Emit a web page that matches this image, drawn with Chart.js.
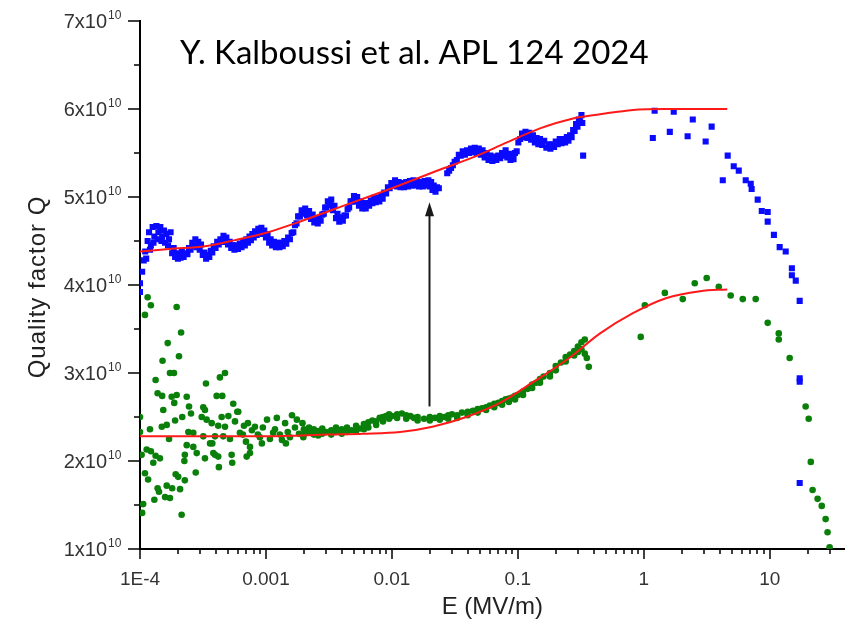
<!DOCTYPE html>
<html><head><meta charset="utf-8">
<script src="https://cdn.jsdelivr.net/npm/chart.js@4.4.1/dist/chart.umd.min.js"></script>
<style>html,body{margin:0;padding:0;background:#fff;}canvas{display:block;}</style>
</head><body>
<canvas id="c" width="849" height="630" style="width:849px;height:630px"></canvas>
<script>
// ---------- axis ----------
const X_MIN = 1e-4, X_MAX = 39.4;
const Y_MIN = 1, Y_MAX = 7;                 // Q in units of 1e10
const xTickVals = [1e-4, 1e-3, 0.01, 0.1, 1, 10];
const xTickLabels = ['1E-4', '0.001', '0.01', '0.1', '1', '10'];
const yTickVals = [1, 2, 3, 4, 5, 6, 7];
const yTickMant = ['1x10','2x10','3x10','4x10','5x10','6x10','7x10'];
const yTickExp = '10';
const titleText = 'Y. Kalboussi et al. APL 124 2024';
const xTitle = 'E (MV/m)';
const yTitle = 'Quality factor Q';

// ---------- blue (after treatment) ----------
const blueBandE = [1.00e-4,1.00e-4,1.04e-4,1.07e-4,1.10e-4,1.15e-4,1.18e-4,1.22e-4,1.26e-4,1.30e-4,
  1.35e-4,1.40e-4,1.45e-4,1.50e-4,1.55e-4,1.62e-4,1.70e-4,1.75e-4,1.85e-4,1.95e-4,
  2.05e-4,2.15e-4,2.30e-4,2.45e-4,2.60e-4,2.75e-4,2.90e-4,3.05e-4,3.25e-4,3.45e-4,
  3.65e-4,3.85e-4,4.10e-4,4.35e-4,4.60e-4,4.85e-4,5.15e-4,5.45e-4,5.80e-4,6.20e-4,
  6.60e-4,7.00e-4,7.40e-4,7.80e-4,8.20e-4,8.70e-4,9.20e-4,9.70e-4,1.03e-3,1.09e-3,
  1.16e-3,1.24e-3,1.32e-3,1.40e-3,1.50e-3,1.60e-3,1.70e-3,1.80e-3,1.92e-3,2.05e-3,
  2.20e-3,2.35e-3,2.50e-3,2.65e-3,2.80e-3,2.95e-3,3.10e-3,3.30e-3,3.50e-3,3.70e-3,
  3.95e-3,4.20e-3,4.45e-3,4.70e-3,5.00e-3,5.30e-3,5.65e-3,6.00e-3,6.40e-3,6.80e-3,
  7.20e-3,7.70e-3,8.20e-3,8.70e-3,9.30e-3,0.0099,0.0106,0.0113,0.0121,0.0130,
  0.0139,0.0148,0.0158,0.0170,0.0182,0.0195,0.0205,0.0215,0.0228,0.0236,
  0.0275,0.0295,0.0315,0.0340,0.0365,0.0395,0.0425,0.0455,0.0490,0.0525,
  0.0565,0.0605,0.0650,0.0700,0.0750,0.0800,0.0850,0.0900,0.0950,0.1010,
  0.1080,0.1150,0.1230,0.1320,0.1410,0.1500,0.1620,0.1750,0.1880,0.2000,
  0.2150,0.2300,0.2450,0.2600,0.2750,0.2900,0.3050,0.3200,0.3250,0.3300];
const blueBandQ = [3.92,4.02,4.15,4.28,4.38,4.50,4.60,4.45,4.66,4.55,
  4.67,4.60,4.66,4.55,4.62,4.58,4.52,4.60,4.42,4.36,
  4.34,4.38,4.36,4.42,4.48,4.52,4.49,4.46,4.37,4.34,
  4.39,4.44,4.49,4.52,4.56,4.54,4.49,4.45,4.45,4.47,
  4.49,4.52,4.55,4.58,4.61,4.64,4.65,4.62,4.58,4.52,
  4.49,4.48,4.48,4.50,4.54,4.59,4.68,4.78,4.85,4.87,
  4.84,4.80,4.76,4.75,4.80,4.88,4.95,4.97,4.90,4.81,
  4.77,4.79,4.86,4.95,5.01,5.00,4.95,4.93,4.93,4.96,
  4.99,4.99,5.01,5.05,5.11,5.16,5.19,5.17,5.16,5.17,
  5.18,5.19,5.18,5.17,5.18,5.19,5.17,5.13,5.11,5.10,
  5.27,5.33,5.40,5.48,5.52,5.53,5.55,5.56,5.55,5.53,
  5.50,5.47,5.46,5.47,5.50,5.53,5.49,5.46,5.50,5.62,
  5.72,5.74,5.73,5.70,5.67,5.66,5.64,5.60,5.60,5.63,
  5.66,5.66,5.68,5.70,5.76,5.83,5.88,5.93,5.84,5.47];
// lower edge of the dense blue band
const blueEdgeE = [1.12e-4,1.20e-4,1.28e-4,1.38e-4,1.48e-4,1.58e-4,1.67e-4,1.80e-4,1.90e-4,2.00e-4,
  2.10e-4,2.22e-4,2.38e-4,2.52e-4,2.68e-4,2.82e-4,2.98e-4,3.15e-4,3.35e-4,3.55e-4,
  3.75e-4,3.98e-4,4.22e-4,4.48e-4,4.72e-4,5.00e-4,5.30e-4,5.62e-4,6.00e-4,6.40e-4,
  6.80e-4,7.20e-4,7.60e-4,8.00e-4,8.45e-4,8.95e-4,9.45e-4,1.00e-3,1.06e-3,1.12e-3,
  1.20e-3,1.28e-3,1.36e-3,1.45e-3,1.55e-3,1.65e-3,1.75e-3,1.86e-3,1.98e-3,2.12e-3,
  2.28e-3,2.42e-3,2.58e-3,2.72e-3,2.88e-3,3.02e-3,3.20e-3,3.40e-3,3.60e-3,3.82e-3,
  4.08e-3,4.32e-3,4.58e-3,4.85e-3,5.15e-3,5.48e-3,5.82e-3,6.20e-3,6.60e-3,7.00e-3,
  7.45e-3,7.95e-3,8.45e-3,9.00e-3,9.60e-3,0.0102,0.0110,0.0117,0.0125,0.0135,
  0.0144,0.0153,0.0164,0.0176,0.0188,0.0200,0.0210,0.0222,0.0285,0.0305,
  0.0328,0.0352,0.0380,0.0410,0.0440,0.0472,0.0508,0.0545,0.0585,0.0628,
  0.0675,0.0725,0.0775,0.0825,0.0875,0.0925,0.0980,0.1045,0.1115,0.1190,
  0.1275,0.1365,0.1455,0.1560,0.1685,0.1815,0.1940,0.2075,0.2225,0.2375,
  0.2525,0.2675,0.2825,0.2975,0.3120];
const blueEdgeQ = [4.30,4.40,4.48,4.52,4.50,4.48,4.45,4.36,4.32,4.30,
  4.31,4.32,4.35,4.40,4.44,4.43,4.40,4.34,4.30,4.32,
  4.37,4.42,4.46,4.49,4.50,4.46,4.42,4.40,4.41,4.43,
  4.45,4.48,4.51,4.54,4.57,4.59,4.58,4.54,4.48,4.45,
  4.43,4.43,4.44,4.47,4.52,4.60,4.70,4.78,4.81,4.79,
  4.75,4.71,4.70,4.73,4.81,4.88,4.91,4.85,4.76,4.72,
  4.73,4.79,4.88,4.95,4.95,4.90,4.87,4.87,4.90,4.93,
  4.94,4.95,4.98,5.04,5.10,5.13,5.12,5.11,5.11,5.12,
  5.13,5.13,5.12,5.12,5.13,5.12,5.08,5.06,5.30,5.36,
  5.42,5.47,5.48,5.50,5.51,5.50,5.48,5.45,5.42,5.41,
  5.42,5.44,5.47,5.45,5.42,5.43,5.52,5.66,5.68,5.67,
  5.65,5.62,5.60,5.59,5.56,5.55,5.57,5.60,5.61,5.62,
  5.64,5.68,5.75,5.80,5.86];
const blueTailE = [1.18,1.22,1.61,1.73,2.23,2.45,3.10,3.46,4.24,4.64,
  5.18,5.68,6.45,7.07,7.19,8.03,8.65,9.64,9.64,10.8,
  12.0,13.4,15.0,15.0,16.1,17.3,17.3,17.3,17.3];
const blueTailQ = [5.67,5.98,5.74,5.97,5.69,5.88,5.63,5.80,5.19,5.47,
  5.35,5.30,5.19,5.15,5.09,4.97,4.84,4.83,4.72,4.57,
  4.43,4.38,4.19,4.11,4.05,3.82,2.94,2.90,1.75];

// ---------- green (before treatment) ----------
const greenScatterE = [1.15e-4,1.22e-4,1.095e-4,1.955e-4,2.12e-4,1.66e-4,2.04e-4,1.51e-4,1.73e-4,1.86e-4,
  4.73e-4,4.31e-4,1.33e-4,3.34e-4,1.38e-4,1.50e-4,1.955e-4,1.785e-4,2.35e-4,4.06e-4,
  4.50e-4,1.87e-4,2.45e-4,1.53e-4,3.18e-4,3.28e-4,5.50e-4,6.03e-4,2.54e-4,1.00e-4,
  3.09e-4,2.165e-4,1.90e-4,5.03e-4,4.45e-4,3.38e-4,3.71e-4,1.49e-4,1.63e-4,1.20e-4,
  2.42e-4,2.65e-4,1.00e-4,4.18e-4,4.73e-4,5.68e-4,3.18e-4,3.94e-4,4.58e-4,5.18e-4,
  1.70e-4,2.35e-4,3.60e-4,3.75e-4,2.65e-4,2.82e-4,1.13e-4,1.22e-4,1.03e-4,1.33e-4,
  1.44e-4,2.27e-4,2.25e-4,3.28e-4,3.82e-4,3.94e-4,4.18e-4,5.34e-4,5.40e-4,7.47e-4,
  7.03e-4,1.275e-4,4.23e-4,2.77e-4,1.095e-4,1.16e-4,1.92e-4,2.01e-4,2.27e-4,1.63e-4,
  1.38e-4,1.80e-4,2.08e-4,1.415e-4,1.58e-4,1.73e-4,1.30e-4,1.06e-4,1.04e-4,2.14e-4,
  5.92e-4,6.21e-4,7.19e-4,7.47e-4,8.18e-4,8.95e-4,1.02e-3,1.14e-3,1.22e-3,1.34e-3,
  1.42e-3,1.61e-3,1.76e-3,1.95e-3,1.98e-3,6.56e-4,6.94e-4,7.74e-4,8.63e-4,9.45e-4,
  1.075e-3,1.18e-3,1.29e-3,1.49e-3,1.55e-3,1.70e-3,1.83e-3,6.69e-4,9.28e-4,1.44e-3];
const greenScatterQ = [3.86,3.77,3.66,3.75,3.46,3.34,3.19,3.14,3.00,3.00,
  3.00,2.95,2.92,2.88,2.77,2.74,2.75,2.73,2.73,2.74,
  2.74,2.66,2.62,2.58,2.61,2.58,2.65,2.56,2.54,2.50,
  2.50,2.50,2.46,2.51,2.50,2.47,2.43,2.39,2.41,2.36,
  2.33,2.32,2.33,2.40,2.39,2.45,2.28,2.28,2.28,2.25,
  2.25,2.18,2.20,2.20,2.16,2.09,2.13,2.11,2.07,2.06,
  2.03,2.07,2.00,2.03,2.09,2.07,2.05,2.07,1.98,2.09,
  2.05,1.98,1.93,1.87,1.86,1.79,1.85,1.82,1.78,1.72,
  1.69,1.69,1.68,1.65,1.59,1.58,1.56,1.51,1.41,1.39,
  2.56,2.32,2.43,2.16,2.39,2.27,2.47,2.32,2.49,2.24,
  2.43,2.52,2.47,2.43,2.27,2.30,2.22,2.35,2.30,2.38,
  2.25,2.36,2.30,2.33,2.27,2.38,2.31,2.40,2.20,2.20];
const greenBandE = [2.0e-3,2.0e-3,2.2e-3,2.2e-3,2.4e-3,2.4e-3,2.6e-3,2.6e-3,2.8e-3,2.8e-3,
  3.0e-3,3.3e-3,3.3e-3,3.6e-3,3.6e-3,4.0e-3,4.0e-3,4.4e-3,4.4e-3,4.8e-3,
  5.2e-3,5.2e-3,5.6e-3,6.0e-3,6.0e-3,6.5e-3,6.5e-3,7.0e-3,7.5e-3,7.5e-3,
  8.0e-3,8.5e-3,8.5e-3,9.0e-3,9.5e-3,9.5e-3,0.010,0.011,0.011,0.012,
  0.013,0.013,0.014,0.015,0.016,0.016,0.018,0.020,0.020,0.022,
  0.024,0.024,0.026,0.028,0.028,0.030,0.033,0.033,0.036,0.040,
  0.040,0.044,0.048,0.048,0.052,0.056,0.056,0.060,0.065,0.065,
  0.070,0.075,0.075,0.080,0.085,0.085,0.090,0.095,0.095,0.100,
  0.110,0.110,0.120,0.130,0.130,0.140,0.150,0.150,0.160,0.180,
  0.180,0.200,0.200,0.220,0.240,0.240,0.260,0.280,0.280,0.300,
  0.300,0.320,0.320,0.340,0.340,0.353,0.366];
const greenBandQ = [2.36,2.30,2.33,2.38,2.30,2.36,2.34,2.29,2.37,2.31,
  2.33,2.35,2.30,2.33,2.38,2.36,2.31,2.38,2.33,2.35,
  2.40,2.34,2.37,2.42,2.36,2.44,2.38,2.46,2.45,2.41,
  2.49,2.50,2.45,2.51,2.53,2.48,2.51,2.53,2.49,2.54,
  2.52,2.48,2.51,2.49,2.50,2.46,2.48,2.50,2.46,2.49,
  2.51,2.47,2.50,2.52,2.48,2.53,2.52,2.49,2.55,2.56,
  2.52,2.57,2.59,2.55,2.60,2.61,2.58,2.63,2.65,2.61,
  2.66,2.68,2.64,2.70,2.71,2.67,2.72,2.74,2.70,2.75,
  2.79,2.75,2.82,2.87,2.83,2.89,2.93,2.89,2.96,3.00,
  2.96,3.08,3.03,3.12,3.18,3.13,3.21,3.25,3.20,3.30,
  3.24,3.35,3.27,3.38,3.22,3.17,3.07];
const greenTailE = [0.946,1.02,1.47,2.04,2.54,3.16,3.94,4.90,6.11,7.74,
  9.64,11.8,11.8,14.4,19.3,20.4,21.2,21.9,24.0,25.9,27.8,28.8,29.9];
const greenTailQ = [3.41,3.77,3.91,3.84,4.02,4.08,3.98,3.88,3.84,3.84,
  3.57,3.45,3.38,3.17,2.62,2.48,1.99,1.67,1.57,1.49,1.34,1.19,1.02];

// ---------- red fit curves ----------
const blueFitE = [1e-4,1.7e-4,3.3e-4,5.7e-4,1.04e-3,1.7e-3,3.6e-3,0.01,0.024,0.044,0.082,0.15,0.27,0.45,0.82,1.5,4.6];
const blueFitQ = [4.38,4.41,4.44,4.51,4.60,4.70,4.87,5.10,5.31,5.45,5.62,5.78,5.89,5.94,5.99,6.00,6.00];
const greenFitE = [1e-4,1e-3,3.2e-3,5.9e-3,0.0116,0.021,0.039,0.072,0.13,0.245,0.45,0.82,1.5,2.8,4.6];
const greenFitQ = [2.28,2.28,2.30,2.31,2.33,2.39,2.50,2.66,2.89,3.15,3.45,3.68,3.85,3.93,3.95];

// ---------- arrow annotation ----------
const arrowE = 0.0197;
const arrowFromQ = 2.62, arrowToQ = 4.94;

function pairs(xs, ys){ return xs.map((x,i)=>({x:x, y:ys[i]})); }
const SANS = '"Liberation Sans", Arial, sans-serif';

const decor = {
  id: 'decor',
  afterDatasetsDraw(chart){
    const {ctx, scales:{x, y}} = chart;
    const px = Math.round(x.getPixelForValue(arrowE)) + 0.5;
    const yb = y.getPixelForValue(arrowFromQ), yt = y.getPixelForValue(arrowToQ);
    ctx.save();
    ctx.strokeStyle = '#1a1a1a'; ctx.fillStyle = '#1a1a1a'; ctx.lineWidth = 2;
    ctx.beginPath(); ctx.moveTo(px, yb); ctx.lineTo(px, yt + 12); ctx.stroke();
    ctx.beginPath(); ctx.moveTo(px, yt); ctx.lineTo(px - 4.5, yt + 14); ctx.lineTo(px + 4.5, yt + 14); ctx.closePath(); ctx.fill();
    ctx.restore();
  },
  afterDraw(chart){
    const {ctx, chartArea:a, scales:{x, y}} = chart;
    ctx.save();
    ctx.strokeStyle = '#000'; ctx.lineWidth = 1.5;
    for (let k = -4; k <= 1; k++) {
      for (let m = 1; m <= 9; m++) {
        const v = m * Math.pow(10, k);
        if (v < X_MIN * 0.999 || v > X_MAX) continue;
        const p = Math.round(x.getPixelForValue(v));
        const len = (m === 1) ? 10 : 5;
        ctx.beginPath(); ctx.moveTo(p, a.bottom); ctx.lineTo(p, a.bottom + len); ctx.stroke();
      }
    }
    for (let i = 0; i <= (Y_MAX - Y_MIN) * 2; i++) {
      const q = Y_MIN + i * 0.5;
      const p = Math.round(y.getPixelForValue(q));
      const len = (i % 2 === 0) ? 12 : 6;
      ctx.beginPath(); ctx.moveTo(a.left - len, p); ctx.lineTo(a.left, p); ctx.stroke();
    }
    // y tick labels with superscript exponent
    ctx.fillStyle = '#333';
    yTickVals.forEach((v, i) => {
      const p = y.getPixelForValue(v);
      ctx.font = '20px ' + SANS; ctx.textAlign = 'right'; ctx.textBaseline = 'alphabetic';
      ctx.fillText(yTickMant[i], 107, p + 7);
      ctx.font = '12px ' + SANS; ctx.textAlign = 'left';
      ctx.fillText(yTickExp, 108, p - 2);
    });
    // axis titles
    ctx.fillStyle = '#222';
    ctx.font = '24px ' + SANS;
    ctx.textAlign = 'center'; ctx.textBaseline = 'middle';
    ctx.fillText(xTitle, (a.left + a.right) / 2, 607);
    ctx.save();
    ctx.translate(38, 287); ctx.rotate(-Math.PI / 2);
    try { ctx.letterSpacing = '1px'; } catch(e) {}
    ctx.fillText(yTitle, 0, 0);
    ctx.restore();
    // reference note
    ctx.fillStyle = '#000';
    ctx.font = '33px Lato, "Open Sans", sans-serif';
    ctx.textBaseline = 'alphabetic'; ctx.textAlign = 'left';
    ctx.fillText(titleText, 180, 64);
    ctx.restore();
  }
};

new Chart(document.getElementById('c'), {
  type: 'scatter',
  data: { datasets: [
    { label:'Fit after', data: pairs(blueFitE, blueFitQ), showLine:true, borderColor:'#ff1a1a', borderWidth:2,
      pointRadius:0, cubicInterpolationMode:'monotone', order:0 },
    { label:'Fit before', data: pairs(greenFitE, greenFitQ), showLine:true, borderColor:'#ff1a1a', borderWidth:2,
      pointRadius:0, cubicInterpolationMode:'monotone', order:0 },
    { label:'After', data: pairs(blueBandE, blueBandQ).concat(pairs(blueEdgeE, blueEdgeQ), pairs(blueTailE, blueTailQ)),
      pointStyle:'rect', pointRadius:4.3, backgroundColor:'#0a0aff', borderWidth:0, order:1 },
    { label:'Before', data: pairs(greenScatterE, greenScatterQ).concat(pairs(greenBandE, greenBandQ), pairs(greenTailE, greenTailQ)),
      pointStyle:'circle', pointRadius:3.3, backgroundColor:'#0a800a', borderWidth:0, order:2 }
  ]},
  options: {
    responsive:false, animation:false, devicePixelRatio:1,
    layout:{ padding:{ top:21, right:4, left:0, bottom:0 } },
    plugins:{ legend:{display:false}, tooltip:{enabled:false} },
    scales:{
      x:{ type:'logarithmic', min:X_MIN, max:X_MAX,
        afterFit(s){ s.height = 81; s.paddingLeft = 0; s.paddingRight = 0; },
        grid:{ display:true, drawOnChartArea:false, drawTicks:false },
        border:{ display:true, color:'#000', width:2 },
        ticks:{ autoSkip:false, maxRotation:0, padding:19, color:'#333',
          font:{ family:SANS, size:19 },
          callback(v){ const i = xTickVals.findIndex(t => Math.abs(Math.log10(t) - Math.log10(v)) < 1e-6); return i >= 0 ? xTickLabels[i] : ''; } },
        title:{ display:false }
      },
      y:{ min:Y_MIN, max:Y_MAX,
        afterFit(s){ s.width = 140; s.paddingTop = 0; s.paddingBottom = 0; },
        grid:{ display:true, drawOnChartArea:false, drawTicks:false },
        border:{ display:true, color:'#000', width:2 },
        ticks:{ stepSize:1, display:false },
        title:{ display:false }
      }
    }
  },
  plugins:[decor]
});
</script>
</body></html>
